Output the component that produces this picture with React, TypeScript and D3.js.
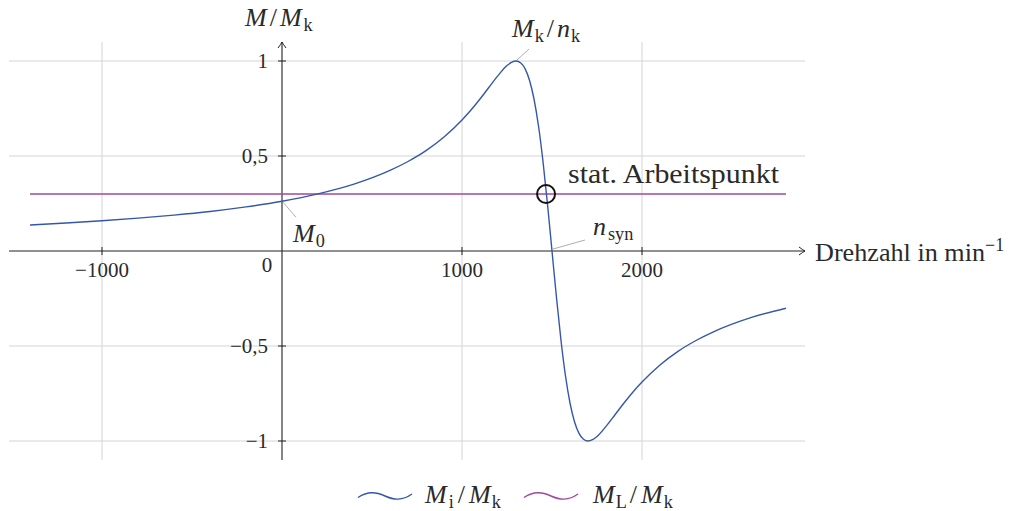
import React from "react";
import * as d3 from "d3";

// Drehzahl n in min^-1
const speeds = [-1400, -1200, -1000, -800, -600, -400, -200, 0, 200, 400, 600, 700, 800, 900, 1000, 1050, 1100, 1150, 1200, 1250, 1275, 1300, 1325, 1350, 1375, 1400, 1425, 1450, 1475, 1500, 1525, 1550, 1575, 1600, 1625, 1650, 1675, 1700, 1725, 1750, 1800, 1850, 1900, 1950, 2000, 2100, 2200, 2300, 2400, 2600, 2800];
// Mi/Mk
const torqueMi = [0.137, 0.147, 0.159, 0.173, 0.189, 0.208, 0.232, 0.262, 0.301, 0.352, 0.424, 0.471, 0.528, 0.6, 0.69, 0.742, 0.8, 0.862, 0.923, 0.976, 0.993, 1.0, 0.991, 0.96, 0.899, 0.8, 0.658, 0.471, 0.246, 0.0, -0.246, -0.471, -0.658, -0.8, -0.899, -0.96, -0.991, -1.0, -0.993, -0.976, -0.923, -0.862, -0.8, -0.742, -0.69, -0.6, -0.528, -0.471, -0.424, -0.352, -0.301];
// ML/Mk (constant load)
const loadSpeeds = [-1400, 2800];
const loadTorque = [0.3, 0.3];

const xTicks = [-1000, 1000, 2000];
const xTickLabels = ["\u22121000", "1000", "2000"];
const yTicks = [1, 0.5, -0.5, -1];
const yTickLabels = ["1", "0,5", "\u22120,5", "\u22121"];

const workPoint = { n: 1467, m: 0.3 };
const peak = { n: 1300, m: 1 };
const m0 = { n: 0, m: 0.262 };
const nSyn = { n: 1500, m: 0 };

const BLUE = "#3557aa";
const PURPLE = "#a3479e";
const GRID = "#d4d4d4";
const FONT = "'Liberation Serif', 'DejaVu Serif', serif";
const TXT = "#2a2a2a";

export default function App() {
  const W = 1015, H = 511;
  const x = d3.scaleLinear().domain([0, 1000]).range([282, 462]);
  const y = d3.scaleLinear().domain([0, 1]).range([251, 61]);

  const xMin = x.invert(9), xMax = x.invert(805);
  const yMin = y.invert(460), yMax = y.invert(42);

  const line = d3.line<number>()
    .x((_, i) => x(speeds[i]))
    .y((d) => y(d))
    .curve(d3.curveMonotoneX);
  const loadLine = d3.line<number>()
    .x((_, i) => x(loadSpeeds[i]))
    .y((d) => y(d));

  const fs = 21; // tick labels
  const mfs = 26; // math labels
  const sdy = 5;
  const sub = (t: string, dx = 1, key?: string) => (
    <tspan key={key} fontStyle="normal" fontSize={mfs * 0.7} dx={dx} dy={sdy}>{t}</tspan>
  );
  const it = (t: string, dx = 0, dy = 0) => (
    <tspan fontStyle="italic" dx={dx} dy={dy}>{t}</tspan>
  );
  const slash = (dx: number, dy: number) => <tspan dx={dx} dy={dy}>/</tspan>;

  const wave = (x0: number, yc: number) =>
    `M${x0},${yc + 1.5} C${x0 + 10},${yc - 5} ${x0 + 18},${yc - 4} ${x0 + 27},${yc} S${x0 + 44},${yc + 5} ${x0 + 54},${yc - 2}`;

  const axisColor = "#222";

  return (
    <svg width={W} height={H} style={{ position: "absolute", left: 0, top: 0, fontFamily: FONT }}>
      {/* grid */}
      {yTicks.map((t) => (
        <line key={"gy" + t} x1={x(xMin)} x2={x(xMax)} y1={y(t)} y2={y(t)} stroke={GRID} strokeWidth={1} />
      ))}
      {xTicks.map((t) => (
        <line key={"gx" + t} x1={x(t)} x2={x(t)} y1={y(yMin)} y2={y(yMax)} stroke={GRID} strokeWidth={1} />
      ))}

      {/* axes */}
      <line x1={x(xMin)} x2={x(xMax)} y1={y(0)} y2={y(0)} stroke={axisColor} strokeWidth={1.1} />
      <path d={`M${x(xMax) - 6},${y(0) - 4} Q${x(xMax) - 2},${y(0) - 1} ${x(xMax)},${y(0)} Q${x(xMax) - 2},${y(0) + 1} ${x(xMax) - 6},${y(0) + 4}`} fill="none" stroke={axisColor} strokeWidth={1} />
      <line x1={x(0)} x2={x(0)} y1={y(yMin)} y2={y(yMax)} stroke={axisColor} strokeWidth={1.1} />
      <path d={`M${x(0) - 4},${y(yMax) + 6} Q${x(0) - 1},${y(yMax) + 2} ${x(0)},${y(yMax)} Q${x(0) + 1},${y(yMax) + 2} ${x(0) + 4},${y(yMax) + 6}`} fill="none" stroke={axisColor} strokeWidth={1} />

      {/* ticks */}
      {yTicks.map((t) => (
        <line key={"ty" + t} x1={x(0) - 4} x2={x(0) + 4} y1={y(t)} y2={y(t)} stroke={axisColor} strokeWidth={1} />
      ))}
      {xTicks.map((t) => (
        <line key={"tx" + t} x1={x(t)} x2={x(t)} y1={y(0) - 4} y2={y(0) + 4} stroke={axisColor} strokeWidth={1} />
      ))}
      {yTicks.map((t, i) => (
        <text key={"ly" + t} x={x(0) - 14} y={y(t) + 7} textAnchor="end" fontSize={fs} fill={TXT}>{yTickLabels[i]}</text>
      ))}
      {xTicks.map((t, i) => (
        <text key={"lx" + t} x={x(t)} y={y(0) + 26} textAnchor="middle" fontSize={fs} fill={TXT}>{xTickLabels[i]}</text>
      ))}
      <text x={x(0) - 15} y={y(0) + 21} textAnchor="middle" fontSize={fs} fill={TXT}>0</text>

      {/* axis labels */}
      <text x={245} y={26} fontSize={mfs} fill={TXT}>
        {it("M")}
        {slash(3, 0)}
        {it("M", 3)}
        {sub("k", 2)}
      </text>
      <text x={815} y={y(0) + 10} fontSize={26} fill={TXT}>
        <tspan textLength={170} lengthAdjust="spacingAndGlyphs">Drehzahl in min</tspan>
        <tspan fontSize={18} dy={-10}>{"\u22121"}</tspan>
      </text>

      {/* curves */}
      <path d={loadLine(loadTorque) || ""} fill="none" stroke={PURPLE} strokeWidth={1.4} />
      <path d={line(torqueMi) || ""} fill="none" stroke={BLUE} strokeWidth={1.4} />

      {/* working point */}
      <circle cx={x(workPoint.n)} cy={y(workPoint.m)} r={9} fill="none" stroke="#111" strokeWidth={2} />
      <text x={568} y={183} fontSize={27} fill={TXT} textLength={211} lengthAdjust="spacingAndGlyphs">stat. Arbeitspunkt</text>

      {/* pins */}
      <line x1={x(peak.n) + 1} y1={y(peak.m) - 1} x2={x(peak.n) + 13} y2={y(peak.m) - 12} stroke="#999" strokeWidth={0.8} />
      <text x={512} y={37} fontSize={mfs} fill={TXT}>
        {it("M")}
        {sub("k", 1)}
        {slash(3, -sdy)}
        {it("n", 3)}
        {sub("k", 1)}
      </text>

      <line x1={x(m0.n) + 1} y1={y(m0.m) + 1} x2={x(m0.n) + 14} y2={y(m0.m) + 16} stroke="#999" strokeWidth={0.8} />
      <text x={293} y={242} fontSize={mfs} fill={TXT}>
        {it("M")}
        {sub("0", 1)}
      </text>

      <line x1={x(nSyn.n) + 1} y1={y(nSyn.m) - 2} x2={x(nSyn.n) + 33} y2={y(nSyn.m) - 11} stroke="#999" strokeWidth={0.8} />
      <text x={593} y={235} fontSize={mfs} fill={TXT}>
        {it("n")}
        {sub("syn", 2)}
      </text>

      {/* legend */}
      <path d={wave(358, 496)} fill="none" stroke={BLUE} strokeWidth={1.4} />
      <text x={425} y={503} fontSize={mfs} fill={TXT}>
        {it("M")}
        {sub("i", 2)}
        {slash(4, -sdy)}
        {it("M", 4)}
        {sub("k", 1)}
      </text>
      <path d={wave(524, 496)} fill="none" stroke={PURPLE} strokeWidth={1.4} />
      <text x={593} y={503} fontSize={mfs} fill={TXT}>
        {it("M")}
        {sub("L", 1)}
        {slash(3, -sdy)}
        {it("M", 4)}
        {sub("k", 1)}
      </text>
    </svg>
  );
}
